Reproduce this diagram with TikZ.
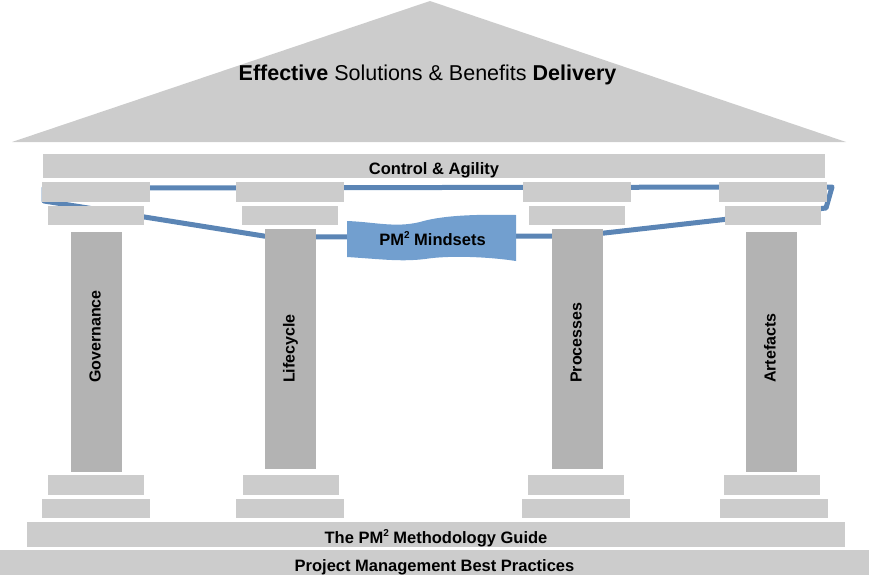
\documentclass[tikz,border=0pt]{standalone}
\usepackage{fontspec}
\setmainfont{Liberation Sans}
\usepackage{xcolor}
\usepackage{tikz}
\tikzset{
  stone/.style={fill=stonegray, inner sep=0pt, outer sep=0pt},
  slab/.style={stone, minimum width=#1},
  slab/.default=108pt,
  shaft/.style={fill=shaftgray, inner sep=0pt, outer sep=0pt, minimum width=51pt, minimum height=240pt},
  bar/.style={stone, text height=17pt, text depth=0pt, font=\fontsize{16.5}{20}\selectfont\bfseries},
}
\definecolor{stonegray}{HTML}{CCCCCC}
\definecolor{shaftgray}{HTML}{B3B3B3}
\definecolor{tieblue}{HTML}{5B85B5}
\definecolor{flagblue}{HTML}{729FCF}
\newcommand{\pmsq}{PM\raisebox{0.42em}{\fontsize{10}{10}\selectfont 2}}

\begin{document}
\begin{tikzpicture}[x=1pt, y=-1pt,
  pillartxt/.style={rotate=90, anchor=mid west, inner sep=0pt, font=\fontsize{16}{19}\selectfont\bfseries},
  tie/.style={draw=tieblue, line width=5pt, line join=round}]
  \useasboundingbox (0,0) rectangle (869,576);
  % roof
  \fill[stonegray] (12,142) -- (430,1) -- (846,142) -- cycle;
  \node[anchor=base, inner sep=0pt, font=\fontsize{21.5}{25}\selectfont] (roof) at (427.5,80)
    {\textbf{Effective} Solutions \& Benefits \textbf{Delivery}};
  \node[bar, minimum width=782pt, minimum height=24pt] (control) at (434,166) {Control \& Agility};
  % blue band behind the capitals
  \draw[tie] (44,188) -- (832,187) -- (826,208) -- (578,236) -- (270,237) -- (44,201) -- cycle;
  % capitals
  \node[slab, minimum height=20pt] (govcapA) at (95.5,192) {};
  \node[slab=96pt, minimum height=19pt] (govcapB) at (95.5,215.5) {};
  \node[slab, minimum height=20pt] (lifecapA) at (289.5,192) {};
  \node[slab=96pt, minimum height=19pt] (lifecapB) at (289.5,215.5) {};
  \node[slab, minimum height=20pt] (proccapA) at (576.5,192) {};
  \node[slab=96pt, minimum height=19pt] (proccapB) at (576.5,215.5) {};
  \node[slab, minimum height=20pt] (artcapA) at (773,192) {};
  \node[slab=96pt, minimum height=19pt] (artcapB) at (773,215.5) {};
  % shafts
  \node[shaft] (gov) at (96.5,352) {};
  \node[shaft] (life) at (290.5,349) {};
  \node[shaft] (proc) at (577.5,349) {};
  \node[shaft] (art) at (771.5,352) {};
  \node[pillartxt] (govtxt) at (98,383) {Governance};
  \node[pillartxt] (lifetxt) at (292,383) {Lifecycle};
  \node[pillartxt] (proctxt) at (579,383) {Processes};
  \node[pillartxt] (arttxt) at (773,383) {Artefacts};
  % mindsets banner
  \fill[flagblue] (347,221) .. controls (375,222) and (395,228) .. (420,222)
    .. controls (440,216) and (470,214) .. (516,215) -- (516,261)
    .. controls (490,257) and (450,255) .. (425,259)
    .. controls (400,262) and (380,259) .. (347,257) -- cycle;
  \node[anchor=base, inner sep=0pt, font=\fontsize{16.5}{20}\selectfont\bfseries] (mindsets) at (432.5,245)
    {\pmsq{} Mindsets};
  % bases
  \node[slab=96pt, minimum height=20pt] (govbaseA) at (95.5,485) {};
  \node[slab, minimum height=19pt] (govbaseB) at (95.5,508.5) {};
  \node[slab=96pt, minimum height=20pt] (lifebaseA) at (290.5,485) {};
  \node[slab, minimum height=19pt] (lifebaseB) at (289.5,508.5) {};
  \node[slab=96pt, minimum height=20pt] (procbaseA) at (575.5,485) {};
  \node[slab, minimum height=19pt] (procbaseB) at (576,508.5) {};
  \node[slab=96pt, minimum height=20pt] (artbaseA) at (772,485) {};
  \node[slab, minimum height=19pt] (artbaseB) at (773.5,508.5) {};
  \node[bar, minimum width=818pt, minimum height=25pt] (guide) at (436,534.5) {The \pmsq{} Methodology Guide};
  \node[bar, minimum width=869pt, minimum height=25pt] (practices) at (434.5,562.5) {Project Management Best Practices};
\end{tikzpicture}
\end{document}
